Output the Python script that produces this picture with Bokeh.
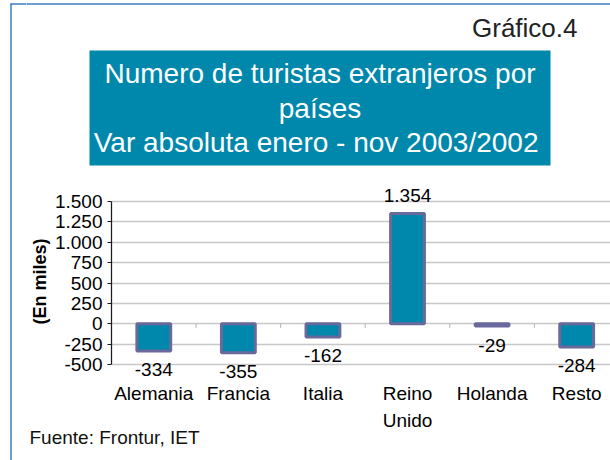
from bokeh.plotting import figure
from bokeh.layouts import column, row
from bokeh.models import (ColumnDataSource, Range1d, FixedTicker, LabelSet, Label, Title)
from bokeh.core.properties import value
from bokeh.embed import file_html
from bokeh.resources import INLINE

# ---- data ----
categories = ["Alemania", "Francia", "Italia", "Reino\nUnido", "Holanda", "Resto"]
values = [-334, -355, -162, 1354, -29, -284]
value_labels = ["-334", "-355", "-162", "1.354", "-29", "-284"]
y_ticks = [-500, -250, 0, 250, 500, 750, 1000, 1250, 1500]
y_tick_labels = ["-500", "-250", "0", "250", "500", "750", "1.000", "1.250", "1.500"]
title_lines = ["Numero de turistas extranjeros por", "países",
               "Var absoluta  enero - nov 2003/2002"]
chart_label = "Gráfico.4"
source_note = "Fuente: Frontur, IET"
y_axis_title = "(En miles)"

FONT = "Liberation Sans"
TEAL = "#0087AC"
BAR_LINE = "#6A699C"
GRID = "#C8C8C8"
BORDER = "#3A7EC2"

W, H = 610, 460
TOP_H = 180          # height of the title strip
LEFT_W = 26          # width of the left border strip


def blank(width, height, xr, yr):
    f = figure(width=width, height=height, output_backend="svg", toolbar_location=None,
               x_range=xr, y_range=yr, x_axis_type=None, y_axis_type=None,
               min_border=0, min_border_left=0, min_border_right=0,
               min_border_top=0, min_border_bottom=0, frame_align=False)
    f.grid.visible = False
    f.outline_line_color = None
    f.background_fill_color = "white"
    f.border_fill_color = "white"
    return f


# ---------- left border strip (full height, page x / flipped page y) ----------
left = blank(LEFT_W, H, Range1d(0, LEFT_W), Range1d(0, H))
left.segment(x0=[10.5, 10], y0=[H - 3, H - 3.5], x1=[10.5, LEFT_W], y1=[-5, H - 3.5],
             line_color=BORDER, line_width=1.5)

# ---------- title strip ----------
top = blank(W - LEFT_W, TOP_H, Range1d(LEFT_W, W), Range1d(0, TOP_H))
top.segment(x0=[LEFT_W - 2], y0=[TOP_H - 3.5], x1=[W], y1=[TOP_H - 3.5],
            line_color=BORDER, line_width=1.5)
top.quad(left=[89], right=[550], top=[TOP_H - 50], bottom=[TOP_H - 165],
         fill_color=TEAL, line_color=None)
# text placed by its vertical middle (baseline minus ~0.35 em)
for txt, yy in zip(title_lines, [83, 117.5, 152]):
    top.add_layout(Label(x=319.5, y=TOP_H - (yy - 0.35 * 28), text=txt,
                         text_align="center", text_baseline="middle",
                         text_color="white", text_font=FONT, text_font_size="28px"))
top.add_layout(Label(x=577, y=TOP_H - (37 - 0.35 * 26), text=chart_label,
                     text_align="right", text_baseline="middle", text_color="#222222",
                     text_font=FONT, text_font_size="26px"))

# ---------- chart ----------
FRAME_L, FRAME_TOP, FRAME_BOT = 109, 180, 382     # page pixels
PX_TOP_TICK, PX_BOT_TICK = 201, 364               # page rows of 1500 and -500
ppu = (PX_BOT_TICK - PX_TOP_TICK) / (y_ticks[-1] - y_ticks[0])
y_end = y_ticks[-1] + (PX_TOP_TICK - FRAME_TOP) / ppu
y_start = y_ticks[0] - (FRAME_BOT - PX_BOT_TICK) / ppu

xs = list(range(len(categories)))
src = ColumnDataSource(dict(
    x=xs, top=values, label=value_labels,
    base=["top" if v < 0 else "alphabetic" for v in values],
    yoff=[-12.5 if v < 0 else 11 for v in values],
))

p = figure(width=W - LEFT_W, height=H - TOP_H, output_backend="svg",
           toolbar_location=None, frame_align=False,
           x_range=Range1d(-0.5, 5.4), y_range=Range1d(y_start, y_end),
           min_border_left=FRAME_L - LEFT_W, min_border_right=0, min_border_top=0,
           min_border_bottom=H - FRAME_BOT)
p.outline_line_color = None
p.background_fill_color = "white"
p.border_fill_color = "white"

p.xgrid.visible = False
p.ygrid.ticker = FixedTicker(ticks=y_ticks)
p.ygrid.grid_line_color = GRID
p.ygrid.grid_line_width = 1.5

p.yaxis.ticker = FixedTicker(ticks=y_ticks)
p.yaxis.bounds = (y_ticks[0], y_ticks[-1])
p.yaxis.major_label_overrides = {t: l for t, l in zip(y_ticks, y_tick_labels)}
p.yaxis.minor_tick_line_color = None
p.yaxis.major_tick_out = 4
p.yaxis.major_tick_in = 0
p.yaxis.axis_line_color = "#1a1a1a"
p.yaxis.axis_line_width = 1.25
p.yaxis.major_tick_line_color = "#1a1a1a"
p.yaxis.major_label_standoff = 5
p.yaxis.major_label_text_font = FONT
p.yaxis.major_label_text_font_size = "19px"
p.yaxis.major_label_text_color = "black"
p.yaxis.axis_label = y_axis_title
p.yaxis.axis_label_text_font = FONT
p.yaxis.axis_label_text_font_style = "bold"
p.yaxis.axis_label_text_font_size = "18px"
p.yaxis.axis_label_text_color = "black"
p.yaxis.axis_label_standoff = 2

p.xaxis.ticker = FixedTicker(ticks=xs)
p.xaxis.major_label_overrides = {i: c for i, c in zip(xs, categories)}
p.xaxis.axis_line_color = None
p.xaxis.major_tick_line_color = None
p.xaxis.minor_tick_line_color = None
p.xaxis.major_tick_out = 0
p.xaxis.major_label_standoff = 0
p.xaxis.major_label_text_font = FONT
p.xaxis.major_label_text_font_size = "19px"
p.xaxis.major_label_text_color = "black"
p.xaxis.major_label_text_line_height = 1.3

# category boundary ticks on the zero line
bx = [i + 0.5 for i in xs[:-1]]
p.segment(x0=bx, y0=[0] * len(bx), x1=bx, y1=[-50] * len(bx),
          line_color="#B0B0B0", line_width=1)

p.vbar(x="x", top="top", bottom=0, width=0.40, source=src,
       fill_color=TEAL, line_color=BAR_LINE, line_width=3)

p.add_layout(LabelSet(x="x", y="top", text="label", source=src,
                      text_baseline="base", y_offset="yoff", text_align="center",
                      text_font=value(FONT), text_font_size="19px", text_color="black"))

p.add_layout(Title(text=source_note, align="left", offset=-(FRAME_L - 27),
                   text_font=FONT, text_font_size="19px", text_font_style="normal",
                   text_color="#111111", standoff=-17), "below")

layout = row(left, column(top, p, spacing=0), spacing=0)
open("out.html", "w").write(file_html(layout, INLINE))
